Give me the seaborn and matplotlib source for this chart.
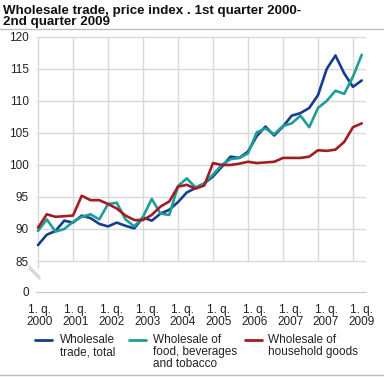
import numpy as np
import pandas as pd
import seaborn as sns
import matplotlib
matplotlib.use("Agg")
import matplotlib.pyplot as plt
from matplotlib.lines import Line2D

# quarterly price index, 1st quarter 2000 - 2nd quarter 2009
total = [87.5, 89.1, 89.7, 91.3, 91.0, 92.1, 91.7, 90.8, 90.4, 91.0,
         90.5, 90.1, 91.8, 91.3, 92.4, 93.0, 94.2, 95.7, 96.4, 97.1,
         98.2, 99.7, 101.3, 101.1, 102.1, 104.5, 106.0, 104.6, 106.0, 107.7,
         108.1, 108.9, 110.9, 115.0, 117.1, 114.3, 112.2, 113.2]
food = [89.7, 91.5, 89.6, 90.0, 91.1, 91.9, 92.3, 91.5, 93.9, 94.1,
        91.5, 90.4, 91.9, 94.7, 92.4, 92.2, 96.7, 97.9, 96.5, 97.1,
        98.5, 100.0, 100.9, 101.1, 101.8, 105.1, 105.7, 104.8, 106.1, 106.5,
        107.7, 105.9, 108.9, 110.0, 111.6, 111.1, 113.8, 117.2]
household = [90.2, 92.3, 91.9, 92.0, 92.1, 95.2, 94.5, 94.5, 93.9, 93.2,
             92.1, 91.4, 91.4, 92.2, 93.5, 94.3, 96.6, 96.9, 96.3, 96.8,
             100.3, 100.0, 100.0, 100.2, 100.5, 100.3, 100.4, 100.5, 101.1, 101.1,
             101.1, 101.3, 102.3, 102.2, 102.4, 103.6, 105.9, 106.5]

series_names = ["Wholesale\ntrade, total",
                "Wholesale of\nfood, beverages\nand tobacco",
                "Wholesale of\nhousehold goods"]
colors = ["#173e8c", "#1d9e97", "#a11d26"]
year_labels = ["2000", "2001", "2002", "2003", "2004", "2005", "2006",
               "2007", "2007", "2009"]
y_ticks = [85, 90, 95, 100, 105, 110, 115, 120]

n = len(total)
df = pd.DataFrame({
    "q": list(range(n)) * 3,
    "value": total + food + household,
    "series": [series_names[0]] * n + [series_names[1]] * n + [series_names[2]] * n,
})

sns.set_style("white")
plt.rcParams["font.family"] = ["Liberation Sans", "DejaVu Sans"]

W, H = 384, 377
fig = plt.figure(figsize=(W / 100, H / 100), dpi=100)
ax = fig.add_axes([36 / W, 85 / H, 330 / W, 257 / H])

y0 = 80.16  # where the "0" baseline sits after the axis break
ax.set_ylim(y0, 120.3)
ax.set_xlim(-0.23, 37.49)

grid_c = "#d9d9d9"
ax.hlines(y_ticks, -0.23, 37.49, color=grid_c, lw=1, zorder=0)
ax.vlines(np.arange(4, n, 4), 85, 120, color=grid_c, lw=1, zorder=0)
ax.vlines([0], 83.9, 120, color=grid_c, lw=1, zorder=0)

sns.lineplot(data=df, x="q", y="value", hue="series", palette=colors,
             hue_order=series_names, linewidth=1.9, legend=False, ax=ax)

for s in ["left", "right", "top"]:
    ax.spines[s].set_visible(False)
ax.spines["bottom"].set_color("#c8c8c8")

ax.set_yticks([y0] + y_ticks)
ax.set_yticklabels(["0"] + [str(v) for v in y_ticks])
ax.tick_params(axis="y", length=0, pad=5, labelsize=8.5, labelcolor="#222222")

ax.set_xticks(np.linspace(0.2, 37.0, 10))
ax.set_xticklabels(["1. q.\n" + y for y in year_labels], linespacing=0.95)
ax.set_xticks(np.arange(0, 37.5, 2 / 3), minor=True)
ax.tick_params(axis="x", which="major", length=0, pad=9, labelsize=8.5,
               labelcolor="#222222")
ax.tick_params(axis="x", which="minor", direction="in", length=4,
               color="#c8c8c8", width=1)
ax.set_xlabel("")
ax.set_ylabel("")

# axis break marks
for off in (0, 2.5):
    fig.add_artist(Line2D([29 / W, 40 / W],
                          [1 - (266 + off) / H, 1 - (277 + off) / H],
                          color="#cfcfcf", lw=1))

# title and rules
fig.text(3 / W, 1 - 5 / H, "Wholesale trade, price index . 1st quarter 2000-\n2nd quarter 2009",
         fontsize=9.6, fontweight="bold", ha="left", va="top", linespacing=0.92,
         color="#111111")
fig.add_artist(Line2D([0, 1], [1 - 29 / H] * 2, color="#bdbdbd", lw=1))
fig.add_artist(Line2D([0, 1], [1 - 375 / H] * 2, color="#bdbdbd", lw=1))

# legend, handle level with first text line
hx = [35, 129, 245]
tx = [60, 153, 268]
for name, c, a, b in zip(series_names, colors, hx, tx):
    fig.add_artist(Line2D([a / W, (a + 17) / W], [1 - 340 / H] * 2, color=c, lw=2))
    fig.text(b / W, 1 - 334 / H, name, fontsize=8.5, ha="left", va="top",
             linespacing=1.02, color="#222222")

fig.savefig("out.png", dpi=100)
